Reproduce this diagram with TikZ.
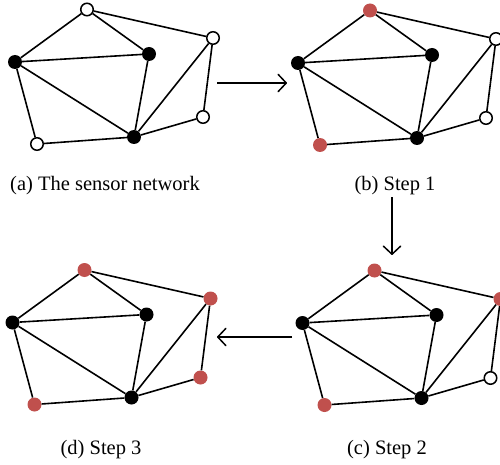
\documentclass[tikz,border=0pt]{standalone}
\usepackage{fontspec}
\setmainfont{Liberation Serif}
\usetikzlibrary{arrows.meta}
\definecolor{nodered}{HTML}{C0504D}
\newcommand\drawnet[9]{%
\begin{scope}[shift={#2}]
\node[#3] (#1A) at (87,9.5) {};
\node[#4] (#1L) at (15,62) {};
\node[#5] (#1M) at (149,54) {};
\node[#6] (#1RT) at (213,38) {};
\node[#7] (#1RB) at (203,117) {};
\node[#8] (#1B) at (134,137) {};
\node[#9] (#1BL) at (37,144) {};
\draw[edge] (#1A) -- (#1L);
\draw[edge] (#1A) -- (#1M);
\draw[edge] (#1A) -- (#1RT);
\draw[edge] (#1L) -- (#1M);
\draw[edge] (#1L) -- (#1B);
\draw[edge] (#1L) -- (#1BL);
\draw[edge] (#1BL) -- (#1B);
\draw[edge] (#1M) -- (#1B);
\draw[edge] (#1B) -- (#1RT);
\draw[edge] (#1B) -- (#1RB);
\draw[edge] (#1RT) -- (#1RB);
\end{scope}}
\begin{document}
\begin{tikzpicture}[x=1pt,y=-1pt,
  base/.style={circle,minimum size=14pt,inner sep=0pt},
  wn/.style={base,draw=black,fill=white,line width=1.5pt,minimum size=12.5pt},
  bn/.style={base,fill=black},
  rn/.style={base,fill=nodered},
  edge/.style={line width=1.6pt,black},
  flow/.style={line width=1.5pt,-{Straight Barb[length=8pt,width=17pt,line width=1.5pt,round]}},
  lab/.style={anchor=base,inner sep=0pt,font=\fontsize{20.5}{24}\selectfont}]
\useasboundingbox (0,0) rectangle (500,465);
\drawnet{a}{(0,0)}{wn}{bn}{bn}{wn}{wn}{bn}{wn}
\drawnet{b}{(283,1)}{rn}{bn}{bn}{wn}{wn}{bn}{rn}
\drawnet{c}{(287.5,261)}{rn}{bn}{bn}{rn}{wn}{bn}{rn}
\drawnet{d}{(-2.5,260.5)}{rn}{bn}{bn}{rn}{rn}{bn}{rn}
\node[lab] (la) at (105,190) {(a) The sensor network};
\node[lab] (lb) at (395,190) {(b) Step 1};
\node[lab] (lc) at (387,454) {(c) Step 2};
\node[lab] (ld) at (101,454) {(d) Step 3};
\coordinate (ab1) at (217,83);
\coordinate (ab2) at (287,83);
\coordinate (bc1) at (392,197);
\coordinate (bc2) at (392,255);
\coordinate (cd1) at (292,337);
\coordinate (cd2) at (217,337);
\draw[flow] (ab1) -- (ab2);
\draw[flow] (bc1) -- (bc2);
\draw[flow] (cd1) -- (cd2);
\end{tikzpicture}
\end{document}
